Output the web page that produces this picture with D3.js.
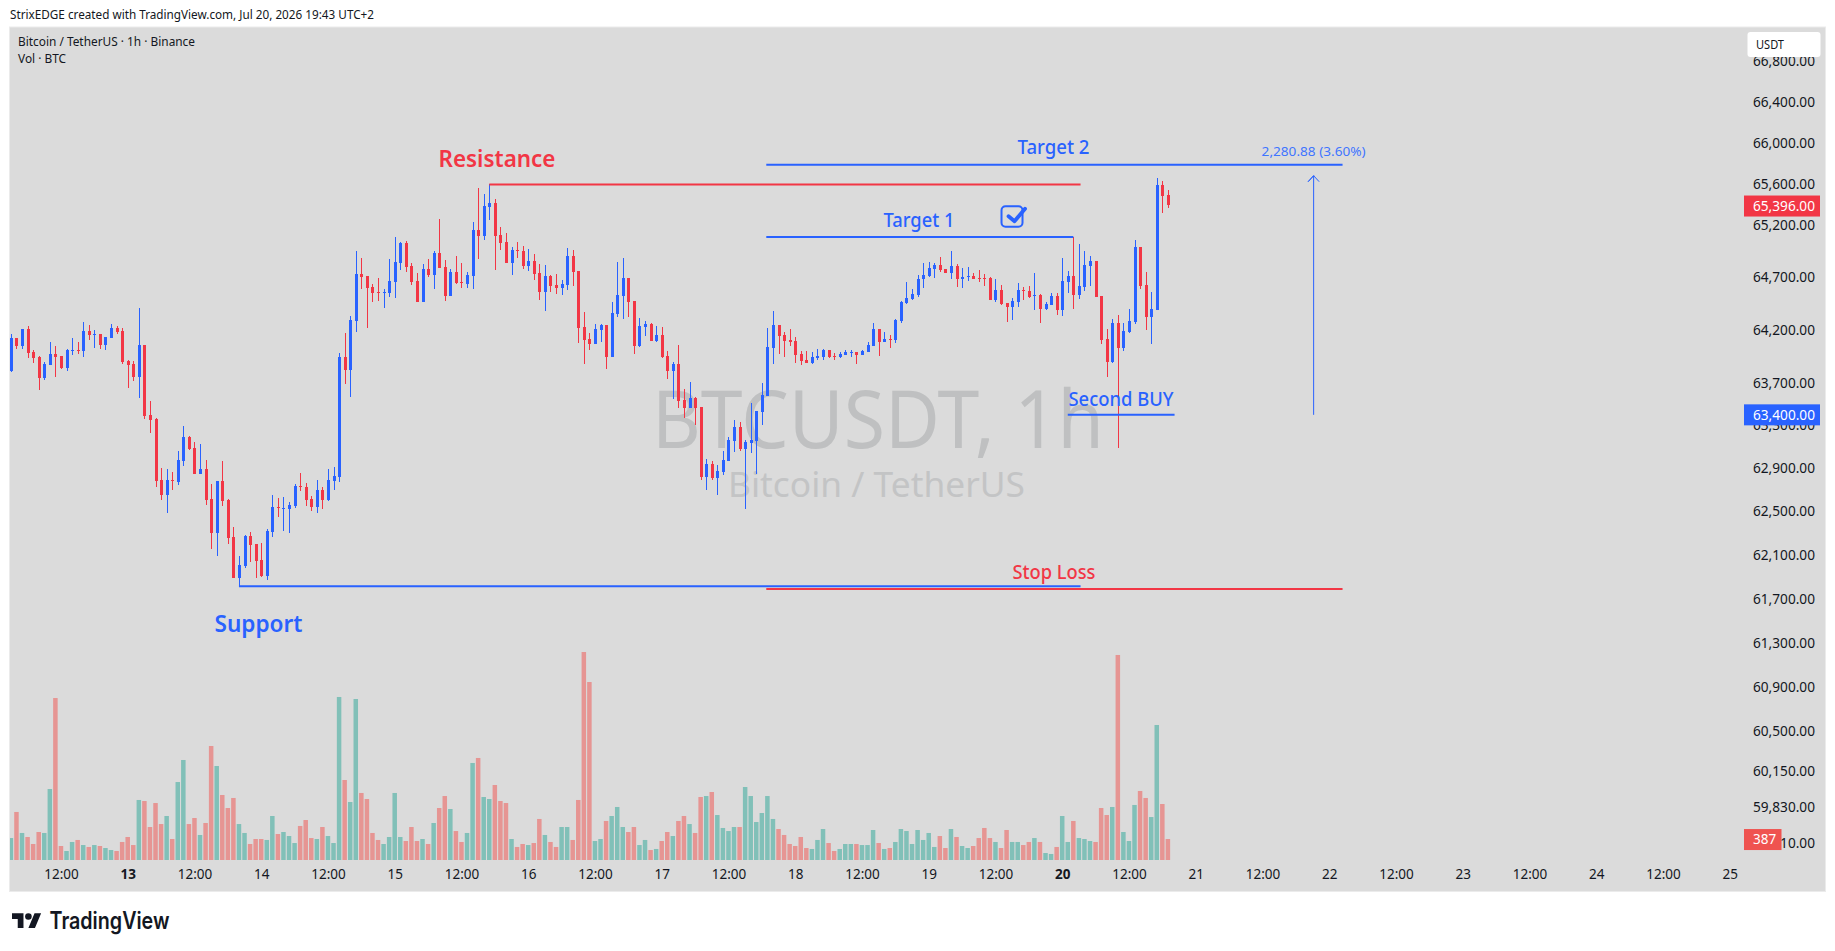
<!DOCTYPE html>
<html><head><meta charset="utf-8">
<script src="https://cdn.jsdelivr.net/npm/d3@7/dist/d3.min.js"></script>
<style>html,body{margin:0;padding:0;background:#fff;overflow:hidden}svg{display:block}text{font-family:"Noto Sans",sans-serif}</style>
</head><body><svg id="c" width="1835" height="951"></svg>
<script>
const opens=[63814,64125,64050,64210,63993,63946,63747,63870,63974,63955,
63842,64002,64012,64002,64191,64154,64163,64059,64125,64220,
64191,63908,63880,63757,64059,63399,63362,62793,62653,62793,
62774,62970,63194,63091,62849,62896,62615,62303,62784,62606,
62267,61890,62000,62276,62202,62055,61909,62312,62542,62524,
62524,62551,62737,62728,62615,62542,62700,62606,62784,62821,
63946,63823,64286,64733,64714,64609,64562,64552,64552,64657,
64839,65032,64810,64666,64467,64782,64724,64936,64801,64524,
64753,64657,64638,64714,65157,65099,65379,65417,65109,65042,
64839,64965,64955,64810,64859,64743,64562,64714,64628,64600,
64628,64907,64762,64230,64116,64068,64200,64247,63946,64352,
64524,64697,64476,64049,64228,64257,64096,64153,63955,63814,
63880,63540,63465,63559,63474,62821,62942,62812,62868,62970,
63156,63286,63082,63137,63156,63427,63578,64030,64247,64153,
64106,64096,63974,63917,63889,63936,63946,64012,63955,63946,
63964,63983,63993,63964,63993,64049,64210,64087,64115,64106,
64286,64458,64496,64534,64686,64714,64781,64820,64781,64743,
64810,64686,64705,64714,64695,64695,64695,64486,64581,64458,
64420,64467,64581,64572,64524,64534,64401,64439,64524,64391,
64657,64714,64534,64610,64810,64859,64524,64115,63896,64267,
64030,64182,64277,64993,64629,64325,64391,65591,65495];
const closes=[64125,64050,64210,63984,63936,63747,63880,63974,63946,63842,
64012,64012,64002,64191,64154,64163,64059,64135,64220,64182,
63899,63870,63757,64059,63390,63353,62784,62653,62793,62784,
62980,63194,63082,62849,62896,62606,62303,62784,62597,62257,
61890,62009,62276,62193,62046,61909,62322,62542,62533,62533,
62560,62737,62728,62606,62542,62700,62606,62793,62830,63946,
63823,64296,64733,64704,64600,64552,64552,64562,64666,64849,
65032,64801,64657,64467,64782,64724,64936,64791,64524,64753,
64647,64647,64724,65157,65099,65388,65417,65099,65032,64839,
64965,64955,64810,64859,64733,64562,64714,64619,64600,64638,
64907,64753,64220,64106,64068,64211,64247,63946,64362,64534,
64697,64467,64049,64238,64257,64096,64153,63946,63814,63880,
63531,63465,63559,63465,62821,62942,62812,62877,62979,63165,
63286,63082,63147,63165,63436,63587,64040,64247,64144,64096,
64087,63964,63908,63889,63946,63955,64012,63946,63946,63974,
63993,63993,63964,64002,64059,64210,64087,64115,64106,64296,
64467,64505,64543,64686,64724,64791,64820,64772,64743,64810,
64686,64705,64714,64686,64686,64686,64486,64581,64448,64420,
64477,64581,64572,64515,64534,64401,64448,64524,64391,64667,
64714,64534,64619,64820,64859,64515,64106,63896,64267,64030,
64191,64286,64993,64619,64325,64401,65591,65485,65396];
const highs=[64163,64125,64210,64239,64012,63955,63899,64088,64050,63955,
64021,64125,64088,64277,64248,64201,64163,64135,64258,64239,
64220,63917,63908,64409,64059,63530,63371,62905,62896,62868,
63063,63297,63203,63147,63129,62980,62756,62784,62970,62615,
62358,62092,62285,62312,62202,62211,62340,62653,62625,62634,
62588,62756,62858,62765,62644,62793,62728,62896,62914,63984,
64173,64333,64955,64887,64714,64638,64695,64590,64878,65090,
65042,65051,64839,64743,64830,64878,64955,65263,64868,64782,
64907,64839,64753,65234,65562,65504,65600,65456,65186,65128,
64993,65042,65003,64974,64926,64830,64820,64724,64733,64676,
64984,64965,64762,64372,64173,64258,64257,64247,64467,64850,
64888,64697,64476,64314,64285,64266,64238,64228,64002,63898,
64059,63644,63710,63568,63474,62989,62970,62933,63063,63193,
63351,63333,63165,63510,63436,63700,64219,64381,64247,64181,
64210,64134,64002,64002,63993,64021,64021,64012,63983,63993,
64012,64012,63993,64012,64087,64266,64210,64181,64153,64306,
64477,64657,64591,64724,64839,64849,64839,64897,64781,64955,
64830,64791,64801,64743,64772,64733,64705,64686,64629,64458,
64505,64648,64610,64619,64743,64543,64467,64553,64553,64887,
64762,65090,65022,64955,64907,64859,64524,64210,64306,64344,
64267,64401,65061,64993,64752,64562,65659,65630,65543];
const lows=[63804,64021,64021,63936,63889,63634,63728,63870,63757,63832,
63814,63965,63974,63946,64106,64031,64021,64012,64125,64163,
63880,63653,63719,63558,63362,63231,62728,62606,62487,62700,
62746,62924,63073,62849,62849,62560,62156,62092,62551,62202,
61890,61817,61982,62037,61890,61899,61872,62267,62450,62322,
62303,62533,62691,62551,62505,62487,62524,62597,62700,62774,
63691,63568,64182,64590,64220,64467,64476,64410,64514,64505,
64772,64753,64628,64467,64467,64705,64590,64791,64476,64524,
64638,64600,64600,64590,64878,65061,65253,64772,64965,64839,
64724,64887,64782,64762,64676,64486,64381,64562,64543,64533,
64581,64619,64078,63878,64011,64068,64087,63832,63946,64323,
64304,64323,63974,64040,64144,64096,64087,63936,63738,63549,
63465,63370,63465,63305,62793,62700,62793,62654,62840,62970,
63054,63063,62524,63044,62849,63305,63578,63880,63974,63946,
64049,63889,63870,63889,63880,63917,63917,63936,63917,63936,
63964,63946,63880,63964,63993,64049,63955,64087,64030,64077,
64267,64448,64486,64515,64600,64705,64695,64752,64743,64686,
64610,64600,64667,64686,64657,64619,64486,64467,64439,64277,
64296,64420,64486,64505,64391,64267,64391,64439,64344,64334,
64553,64401,64496,64572,64619,64515,64068,63755,63887,63088,
64001,64172,64258,64591,64201,64068,64391,65321,65369];
const volumes=[405,885,498,424,295,516,498,1308,2985,258,
166,332,369,276,240,276,258,221,184,166,
332,424,276,1106,1087,608,1050,663,811,387,
1437,1843,663,774,461,682,2101,1732,1198,958,
1143,663,498,295,387,387,369,811,479,516,
442,313,627,737,405,387,608,442,313,3004,
1474,1069,2967,1235,1124,498,369,295,424,1235,
424,350,608,350,387,295,682,958,1179,940,
534,332,498,1788,1880,1161,1124,1382,1087,1050,
387,240,295,276,313,756,461,332,240,608,
608,369,1106,3833,3280,350,387,719,811,977,
608,516,608,276,369,184,203,350,516,442,
719,811,663,498,1161,1179,1253,829,590,534,
608,608,1345,1179,700,866,1179,756,571,461,
295,258,424,221,203,369,571,313,166,203,
295,295,295,276,276,553,313,203,221,332,
571,534,295,553,369,498,240,442,221,571,
424,258,221,258,405,590,405,332,221,553,
332,332,276,332,405,332,129,111,240,811,
332,719,405,387,350,332,958,829,977,3778,
516,350,1014,1272,1143,792,2488,1032,387];
const firstHour=-21; // hours relative to the 13th, 00:00
const priceTicks=[66800,66400,66000,65600,65200,64700,64200,63700,63300,62900,62500,62100,61700,61300,60900,60500,60150,59830,59510];
const timeTickHours=[-12,0,12,24,36,48,60,72,84,96,108,120,132,144,156,168,180,192,204,216,228,240,252,264,276,288];
const timeTickLabels=["12:00","13","12:00","14","12:00","15","12:00","16","12:00","17","12:00","18","12:00","19","12:00","20","12:00","21","12:00","22","12:00","23","12:00","24","12:00","25"];
const boldTimeLabels=["13","20"];
const lastPrice=65396, lastVolume=387, entryPrice=63400, targetMove=2280.88;
const levelNames=["Resistance","Support","Target 2","Target 1","Stop Loss","Second BUY"];
const levelPrices=[65595,61815,65787,65088,61790,63400];
const levelStarts=[65,20,114.8,114.8,114.8,169];
const levelEnds=[171.3,171.3,218.4,170,218.4,188.2];

const RED="#f23645",BLUE="#2962ff",BG="#dbdbdb";
const svg=d3.select("#c");
const x=d3.scaleLinear().domain([-21,288]).range([10.9,1729.7]);
const y=d3.scaleLog().domain([66400,59510]).range([102,843.3]);
const vol=d3.scaleLinear().domain([0,3833]).range([860,652]);

svg.append("rect").attr("x",9.5).attr("y",27).attr("width",1816).attr("height",864.5).attr("fill",BG).attr("stroke","#ebebeb");
svg.append("defs").append("clipPath").attr("id","pane").append("rect").attr("x",10).attr("y",27).attr("width",1734).attr("height",864);

function label(sel,txt,px,py,size,fill,anchor,len,weight){
  const t=sel.append("text").attr("x",px).attr("y",py).attr("dy","0.35em").attr("font-size",size).attr("fill",fill).attr("text-anchor",anchor||"start").text(txt);
  if(weight)t.attr("font-weight",weight);
  if(len)t.attr("textLength",len).attr("lengthAdjust","spacingAndGlyphs");
  return t;
}
label(svg,"StrixEDGE created with TradingView.com, Jul 20, 2026 19:43 UTC+2",10,14.5,13,"#131722","start",364);
label(svg,"BTCUSDT, 1h",878,419.5,80,"#bfc0c1","middle",452);
label(svg,"Bitcoin / TetherUS",876.5,484.5,35,"#c3c4c5","middle",297);
label(svg,"Bitcoin / TetherUS · 1h · Binance",18,41.2,13,"#131722","start",177);
label(svg,"Vol · BTC",18,58.5,13,"#131722","start",48);

const pane=svg.append("g").attr("clip-path","url(#pane)");
const idx=d3.range(opens.length);
const up=i=>closes[i]>=opens[i];
const cx=i=>Math.round(x(firstHour+i));
pane.append("g").selectAll("rect").data(idx).join("rect")
 .attr("x",i=>x(firstHour+i)-2.25).attr("width",4.5)
 .attr("y",i=>vol(volumes[i])).attr("height",i=>vol(0)-vol(volumes[i]))
 .attr("fill",i=>up(i)?"#81c0b8":"#e69593");
const cg=pane.append("g").attr("shape-rendering","crispEdges");
cg.selectAll("line").data(idx).join("rect")
 .attr("x",cx).attr("width",1).attr("y",i=>y(highs[i])).attr("height",i=>y(lows[i])-y(highs[i]))
 .attr("fill",i=>up(i)?BLUE:RED);
cg.selectAll(".b").data(idx).join("rect").attr("class","b")
 .attr("x",i=>cx(i)-1).attr("width",3).attr("y",i=>y(Math.max(opens[i],closes[i])))
 .attr("height",i=>Math.max(1,Math.abs(y(opens[i])-y(closes[i]))))
 .attr("fill",i=>up(i)?BLUE:RED);

// horizontal levels
const levelColors=[RED,BLUE,BLUE,BLUE,RED,BLUE];
svg.append("g").selectAll("line").data(levelNames).join("line")
 .attr("x1",(d,i)=>x(levelStarts[i])).attr("x2",(d,i)=>x(levelEnds[i]))
 .attr("y1",(d,i)=>y(levelPrices[i])).attr("y2",(d,i)=>y(levelPrices[i]))
 .attr("stroke",(d,i)=>levelColors[i]).attr("stroke-width",2);

label(svg,"Resistance",497,159,23,RED,"middle",117,600);
label(svg,"Support",258.5,624,23,BLUE,"middle",88,600);
label(svg,"Target 2",1053.5,147.5,19,BLUE,"middle",72,500);
label(svg,"Target 1",919,220.5,19,BLUE,"middle",71,500);
label(svg,"Stop Loss",1054,572.5,19,RED,"middle",83,500);
label(svg,"Second BUY",1121,399.5,19,BLUE,"middle",105,500);

// measured move arrow
const ax=x(213.2), ayTop=y(entryPrice+targetMove), ayBot=y(entryPrice);
svg.append("path").attr("fill","none").attr("stroke",BLUE).attr("stroke-width",1)
 .attr("d",d3.line()([[ax,ayBot],[ax,ayTop],[ax-5.5,ayTop+6],[ax,ayTop],[ax+5.5,ayTop+6]]));
label(svg,d3.format(",.2f")(targetMove)+" (3.60%)",ax,151,13,"#3f75ff","middle",104);

// checkbox icon
const cb=svg.append("g").attr("transform",`translate(${x(157)},${y(65390)})`).attr("fill","none").attr("stroke",BLUE).attr("stroke-linecap","round");
cb.append("rect").attr("x",0.5).attr("y",0.5).attr("width",21).attr("height",20.5).attr("rx",4).attr("stroke-width",2);
cb.append("path").attr("d","M7.5 10.5L13.5 15.5L24 3").attr("stroke-width",3.8).attr("stroke-linejoin","round");

// axes
const yAxis=svg.append("g").attr("transform","translate(1753,0)")
 .call(d3.axisRight(y).tickValues(priceTicks).tickSize(0).tickPadding(0).tickFormat(d3.format(",.2f")));
yAxis.select(".domain").remove();
yAxis.selectAll("text").attr("font-size",13.5).attr("fill","#131722").attr("font-family",'"Noto Sans",sans-serif').attr("textLength",62).attr("lengthAdjust","spacingAndGlyphs");
const xAxis=svg.append("g").attr("transform","translate(0,869.5)")
 .call(d3.axisBottom(x).tickValues(timeTickHours).tickSize(0).tickPadding(0).tickFormat((d,i)=>timeTickLabels[i]));
xAxis.select(".domain").remove();
xAxis.selectAll("text").attr("font-size",13.5).attr("fill","#131722").attr("font-family",'"Noto Sans",sans-serif')
 .attr("font-weight",(d,i)=>boldTimeLabels.includes(timeTickLabels[i])?700:400);

// top-of-axis USDT box and tags
svg.append("rect").attr("x",1747.5).attr("y",32).attr("width",73).attr("height",25).attr("rx",3).attr("fill","#fff");
label(svg,"USDT",1756,44.5,12,"#131722","start",28);
function tag(p,fill,txt,w,tx){
  const c=y(p);
  svg.append("rect").attr("x",1744).attr("y",c-10.5).attr("width",w).attr("height",21).attr("fill",fill);
  label(svg,txt,tx,c,13.5,"#fff","start",txt.length>3?62:null);
}
tag(lastPrice-9,RED,d3.format(",.2f")(lastPrice),76,1753);
tag(entryPrice,BLUE,d3.format(",.2f")(entryPrice),76,1753);
const vc=y(59543);
svg.append("rect").attr("x",1744).attr("y",vc-10.5).attr("width",37.5).attr("height",21).attr("fill","#ef5350");
label(svg,String(lastVolume),1753,vc,13.5,"#fff","start");

// TradingView brand
const lg=svg.append("g").attr("transform","translate(12,910) scale(0.82)").attr("fill","#131722");
lg.append("path").attr("d","M14 22H7V11H0V4h14v18zM28 22h-8l7.5-18h8L28 22z");
lg.append("circle").attr("cx",20).attr("cy",8).attr("r",4);
label(svg,"TradingView",49.5,921,24,"#131722","start",120,600).style("font-family","Inter,sans-serif");
</script></body></html>
